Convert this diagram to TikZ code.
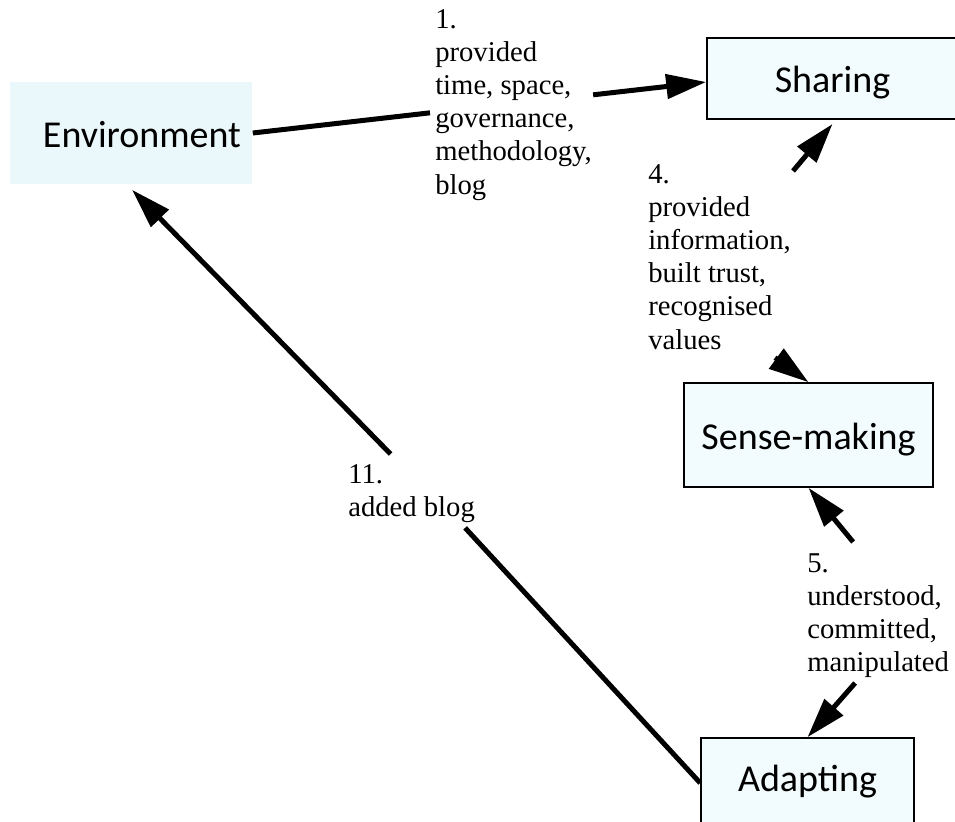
\documentclass[tikz,border=0pt]{standalone}
\usepackage{fontspec}
\setmainfont{Liberation Serif}
\newfontfamily\boxfont{Carlito}
\usetikzlibrary{arrows.meta}
\definecolor{envfill}{RGB}{234,247,251}
\definecolor{boxfill}{RGB}{242,251,253}

\begin{document}
\begin{tikzpicture}[x=0.75pt, y=-0.75pt,
  box/.style={draw, line width=1.2pt, fill=boxfill, inner sep=0pt,
    font=\boxfont\fontsize{28.5}{34}\selectfont, text height=27pt, text depth=5.7pt},
  lbl/.style={anchor=north west, align=left, inner sep=0pt,
    font=\fontsize{21.5}{24.9}\selectfont},
  link/.style={line width=3.75pt},
  arr/.style={link, -{Triangle[length=30pt, width=18pt]}}]

\useasboundingbox (0,0) rectangle (955,821);

% the four boxes
\node [box, draw=none, fill=envfill, minimum width=181.5pt, minimum height=76.5pt,
  text width=165pt, align=right] (v1) at (131,133) {Environment};
\node [box, minimum width=188.25pt, minimum height=61pt] (v2) at (832.5,78.5) {Sharing};
\node [box, minimum width=186.75pt, minimum height=78pt] (v3) at (808.5,435) {Sense-making};
\node [box, minimum width=159.75pt, minimum height=67.5pt, text height=18.5pt] (v4) at (807.5,783) {Adapting};

% labels on the links
\node [lbl] (v5) at (435,9) {1.\\provided\\time, space,\\governance,\\methodology,\\blog};
\node [lbl] (v6) at (648,164) {4.\\provided\\information,\\built trust,\\recognised\\values};
\node [lbl] (v7) at (807,553) {5.\\understood,\\committed,\\manipulated};
\node [lbl] (v8) at (348,464) {11.\\added blog};

% links, each one cut by its label
\draw [link] (v1.east) -- ([shift={(-5,8)}]v5.west);
\draw [arr] ([shift={(1,-10)}]v5.east) -- ([shift={(0,3.5)}]v2.west);

\draw [arr] ([shift={(2,7)}]v6.north east) -- ([shift={(0,4)}]v2.south);
\draw [arr] ([shift={(-16,8)}]v6.south east) -- (v3.north);

\draw [arr] ([shift={(-25,-11)}]v7.north) -- (v3.south);
\draw [arr] ([shift={(-23,5)}]v7.south) -- (v4.north);

\draw [link] (v4.west) -- ([shift={(-10,5)}]v8.south east);
\draw [arr] ([shift={(-21,-10)}]v8.north) -- ([shift={(1,5)}]v1.south);
\end{tikzpicture}
\end{document}
